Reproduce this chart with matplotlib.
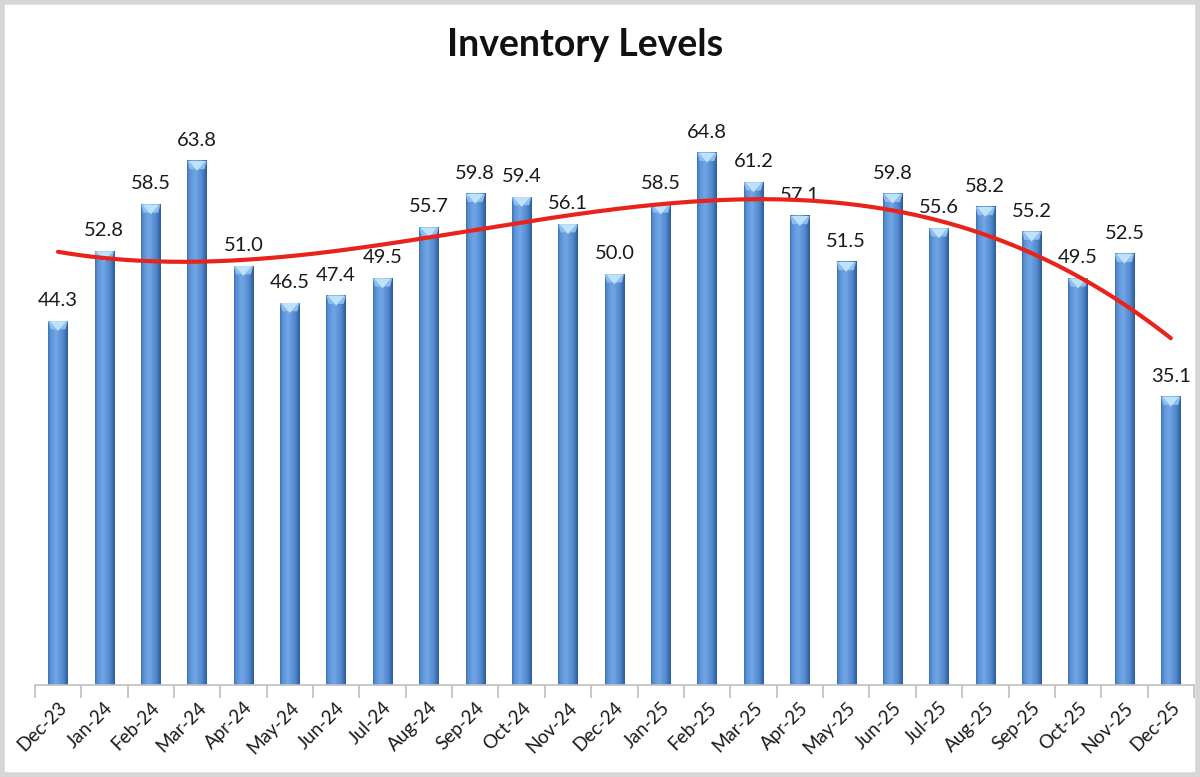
import numpy as np
import matplotlib
matplotlib.use("Agg")
import matplotlib.pyplot as plt
from matplotlib.patches import Polygon, Rectangle

months = ["Dec-23", "Jan-24", "Feb-24", "Mar-24", "Apr-24", "May-24", "Jun-24",
          "Jul-24", "Aug-24", "Sep-24", "Oct-24", "Nov-24", "Dec-24", "Jan-25",
          "Feb-25", "Mar-25", "Apr-25", "May-25", "Jun-25", "Jul-25", "Aug-25",
          "Sep-25", "Oct-25", "Nov-25", "Dec-25"]
values = [44.3, 52.8, 58.5, 63.8, 51.0, 46.5, 47.4, 49.5, 55.7, 59.8, 59.4, 56.1,
          50.0, 58.5, 64.8, 61.2, 57.1, 51.5, 59.8, 55.6, 58.2, 55.2, 49.5, 52.5,
          35.1]

plt.rcParams['font.family'] = ['Lato', 'DejaVu Sans']

fig = plt.figure(figsize=(12, 7.77), dpi=100)
ax = fig.add_axes([0.029, 0.1184, 0.966, 0.740])

x = np.arange(len(values))
w = 0.42

# shading across each bar: darker edges, light just left of centre
t = np.linspace(0, 1, 64)
shade = np.interp(t, [0, 0.12, 0.4, 0.75, 1], [0.75, 0.35, 0.0, 0.45, 1.0])
shade = np.vstack([shade, shade])
cmap = matplotlib.colors.LinearSegmentedColormap.from_list(
    "bar", ["#72a7e6", "#4f86cc", "#2d5b97"])

for xi, v in zip(x, values):
    ax.imshow(shade, cmap=cmap, aspect="auto", extent=[xi - w/2, xi + w/2, 0, v],
              zorder=2, interpolation="bilinear", vmin=0, vmax=1)
    ax.add_patch(Polygon([[xi - w/2, v], [xi + w/2, v], [xi + w/2 - 0.05, v - 1.0],
                          [xi - w/2 + 0.05, v - 1.0]], closed=True,
                         fc="#8dbcef", ec="none", zorder=3))
    ax.add_patch(Polygon([[xi - w/2 + 0.03, v], [xi + w/2 - 0.03, v], [xi, v - 1.2]],
                         closed=True, fc="#bfe2fb", ec="none", zorder=4))
    ax.text(xi, v + 2.5, f"{v:.1f}", ha="center", va="center", fontsize=14.5,
            color="#1a1a1a", zorder=5)

# polynomial (order 3) trendline
coef = np.polyfit(x, values, 3)
xs = np.linspace(0, len(values) - 1, 300)
ax.plot(xs, np.polyval(coef, xs), color="#e8231b", lw=3, zorder=6, solid_capstyle="round")

ax.set_xlim(-0.5, len(values) - 0.5)
ax.set_ylim(0, 70)
ax.set_yticks([])
for s in ["left", "right", "top"]:
    ax.spines[s].set_visible(False)
ax.spines["bottom"].set_color("#bfbfbf")
ax.spines["bottom"].set_linewidth(1.2)

ax.set_xticks(x)
ax.set_xticklabels(months, rotation=45, ha="right", rotation_mode="anchor",
                   fontsize=13.5, color="#1a1a1a")
ax.tick_params(axis="x", length=0, pad=10)
ax.set_xticks(np.arange(-0.5, len(values), 1), minor=True)
ax.tick_params(axis="x", which="minor", length=9, color="#bfbfbf", width=1.2)

fig.text(0.488, 0.942, "Inventory Levels", ha="center", va="center",
         fontsize=27, fontweight="bold", color="#111111")

fig.patches.append(Rectangle((0.002, 0.003), 0.996, 0.994, transform=fig.transFigure,
                             fill=False, ec="#d6d6d6", lw=4))

fig.savefig("out.png", dpi=100)
